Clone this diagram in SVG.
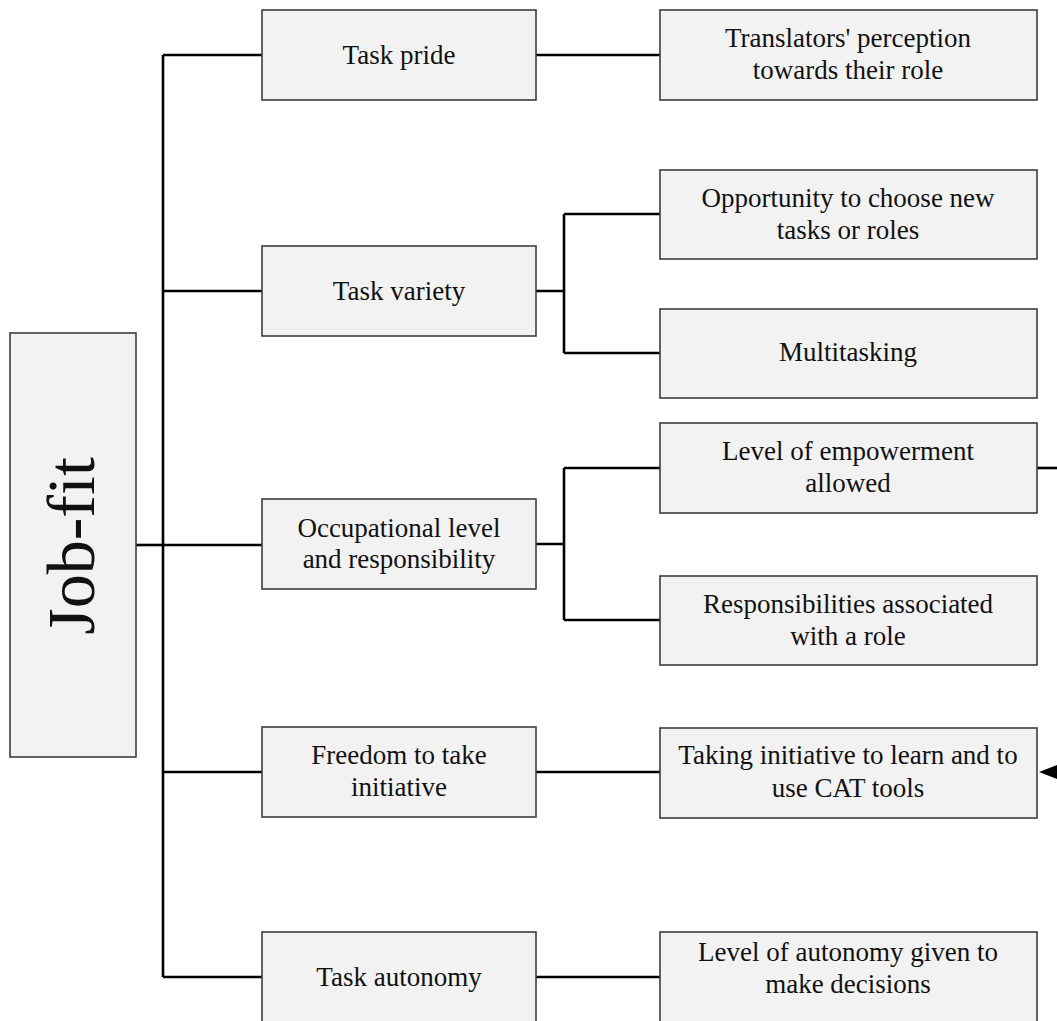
<svg xmlns="http://www.w3.org/2000/svg" width="1057" height="1021" viewBox="0 0 1057 1021">
  <style>
    .box { fill: #f2f2f2; stroke: #3c3c3c; stroke-width: 1.6; }
    .conn { fill: none; stroke: #000; stroke-width: 2.6; }
    .lbl { font-family: "Liberation Serif", "DejaVu Serif", serif; font-size: 27px; fill: #111; text-anchor: middle; }
    .root { font-family: "Liberation Serif", "DejaVu Serif", serif; font-size: 68px; fill: #111; text-anchor: middle; }
  </style>

  <!-- connectors -->
  <g id="connectors">
    <path class="conn" d="M136 545 H163"/>
    <path class="conn" d="M163 55 V977"/>
    <path class="conn" d="M163 55 H262 M163 291 H262 M163 545 H262 M163 772 H262 M163 977 H262"/>
    <path class="conn" d="M536 55 H660"/>
    <path class="conn" d="M536 291 H564 M564 214 V353 M564 214 H660 M564 353 H660"/>
    <path class="conn" d="M536 544 H564 M564 468 V620 M564 468 H660 M564 620 H660"/>
    <path class="conn" d="M536 772 H660"/>
    <path class="conn" d="M536 977 H660"/>
    <path class="conn" d="M1037 468 H1057"/>
    <path class="conn" d="M1050 772 H1057"/>
    <polygon points="1039,772 1057,765 1057,779" fill="#000"/>
  </g>

  <!-- root -->
  <g id="job-fit">
    <rect class="box" x="10" y="333" width="126" height="424"/>
    <text class="root" transform="translate(94,546) rotate(-90)">Job-fit</text>
  </g>

  <!-- first level -->
  <g id="task-pride">
    <rect class="box" x="262" y="10" width="274" height="90"/>
    <text class="lbl" x="399" y="64">Task pride</text>
  </g>
  <g id="task-variety">
    <rect class="box" x="262" y="246" width="274" height="90"/>
    <text class="lbl" x="399" y="300">Task variety</text>
  </g>
  <g id="occupational-level">
    <rect class="box" x="262" y="499" width="274" height="90"/>
    <text class="lbl" x="399" y="537">Occupational level</text>
    <text class="lbl" x="399" y="568">and responsibility</text>
  </g>
  <g id="freedom-initiative">
    <rect class="box" x="262" y="727" width="274" height="90"/>
    <text class="lbl" x="399" y="764">Freedom to take</text>
    <text class="lbl" x="399" y="796">initiative</text>
  </g>
  <g id="task-autonomy">
    <rect class="box" x="262" y="932" width="274" height="90"/>
    <text class="lbl" x="399" y="986">Task autonomy</text>
  </g>

  <!-- second level -->
  <g id="translators-perception">
    <rect class="box" x="660" y="10" width="377" height="90"/>
    <text class="lbl" x="848" y="47">Translators' perception</text>
    <text class="lbl" x="848" y="79">towards their role</text>
  </g>
  <g id="opportunity">
    <rect class="box" x="660" y="170" width="377" height="89"/>
    <text class="lbl" x="848" y="207">Opportunity to choose new</text>
    <text class="lbl" x="848" y="239">tasks or roles</text>
  </g>
  <g id="multitasking">
    <rect class="box" x="660" y="309" width="377" height="89"/>
    <text class="lbl" x="848" y="361">Multitasking</text>
  </g>
  <g id="empowerment">
    <rect class="box" x="660" y="423" width="377" height="90"/>
    <text class="lbl" x="848" y="460">Level of empowerment</text>
    <text class="lbl" x="848" y="492">allowed</text>
  </g>
  <g id="responsibilities">
    <rect class="box" x="660" y="576" width="377" height="89"/>
    <text class="lbl" x="848" y="613">Responsibilities associated</text>
    <text class="lbl" x="848" y="645">with a role</text>
  </g>
  <g id="cat-tools">
    <rect class="box" x="660" y="728" width="377" height="90"/>
    <text class="lbl" x="848" y="764">Taking initiative to learn and to</text>
    <text class="lbl" x="848" y="797">use CAT tools</text>
  </g>
  <g id="decision-autonomy">
    <rect class="box" x="660" y="932" width="377" height="100"/>
    <text class="lbl" x="848" y="961">Level of autonomy given to</text>
    <text class="lbl" x="848" y="993">make decisions</text>
  </g>
</svg>
